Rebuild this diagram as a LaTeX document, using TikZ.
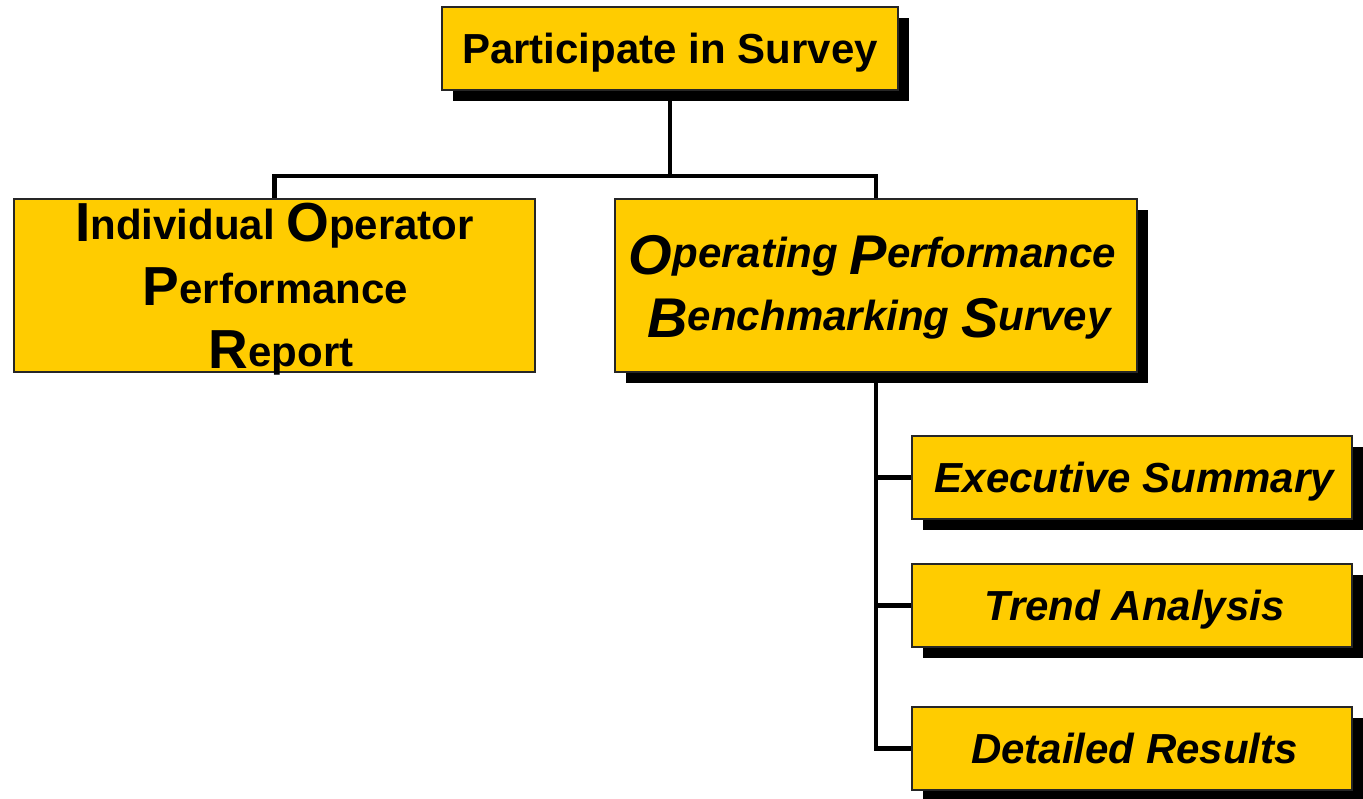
\documentclass[tikz,border=0pt]{standalone}
\usepackage{fontspec}
\setmainfont{Liberation Sans}
\usetikzlibrary{shadows,backgrounds}
\definecolor{boxyellow}{HTML}{FFCC00}
\definecolor{edgegray}{HTML}{262626}
% enlarged, slightly lowered initial letters
\newcommand\iopcap[1]{\raisebox{-1.7pt}{\fontsize{55}{60}\selectfont\bfseries #1}}
\newcommand\opbcap[1]{\raisebox{-7pt}{\fontsize{56}{60}\selectfont\bfseries\itshape #1}}
\begin{document}
\begin{tikzpicture}[x=1pt,y=-1pt,
  box/.style={draw=edgegray, line width=1.6pt, fill=boxyellow, inner sep=0pt, outer sep=0pt},
  shadowed/.style={drop shadow={shadow xshift=11pt, shadow yshift=-11pt, fill=black, opacity=1}},
  onetext/.style={text height=30pt, text depth=0pt, font=\fontsize{42}{50}\selectfont\bfseries},
  linetext/.style={inner sep=0pt, anchor=base, font=\fontsize{42}{50}\selectfont\bfseries},
  wire/.style={line width=4.5pt, line join=miter, black}]
\useasboundingbox (0,0) rectangle (1363,799);

% boxes
\node[box, shadowed, onetext, minimum width=456pt, minimum height=83pt] (top) at (670,48.5) {Participate in Survey};
\node[box, minimum width=521pt, minimum height=173pt] (iopr) at (274.5,285.5) {};
\node[box, shadowed, minimum width=522pt, minimum height=173pt] (opbs) at (876,285.5) {};
\node[box, shadowed, onetext, font=\fontsize{42}{50}\selectfont\bfseries\itshape, minimum width=440pt, minimum height=83pt] (exec) at (1132,477.5) {\hspace*{5pt}Executive Summary};
\node[box, shadowed, onetext, font=\fontsize{42}{50}\selectfont\bfseries\itshape, minimum width=440pt, minimum height=83pt] (trend) at (1132,605.5) {\hspace*{5pt}Trend Analysis};
\node[box, shadowed, onetext, font=\fontsize{42}{50}\selectfont\bfseries\itshape, minimum width=440pt, minimum height=83pt] (detail) at (1132,748.5) {\hspace*{5pt}Detailed Results};

% box texts, one node per line
\node[linetext] (iopr1) at (274.5,240) {\iopcap{I}ndividual \iopcap{O}perator};
\node[linetext] (iopr2) at (275.5,303.5) {\iopcap{P}erformance};
\node[linetext] (iopr3) at (281,367) {\iopcap{R}eport};
\node[linetext, font=\fontsize{42}{50}\selectfont\bfseries\itshape] (opbs1) at (872.5,268) {\opbcap{O}perating \opbcap{P}erformance};
\node[linetext, font=\fontsize{42}{50}\selectfont\bfseries\itshape] (opbs2) at (879,331) {\opbcap{B}enchmarking \opbcap{S}urvey};

% connectors
\coordinate (bus) at (670,176);
\begin{scope}[on background layer]
  \draw[wire] (top.south) -- (bus);
  \draw[wire] (iopr.north) |- (bus) -| (opbs.north);
  \draw[wire] (opbs.south) |- (exec.west);
  \draw[wire] (opbs.south) |- (trend.west);
  \draw[wire] (opbs.south) |- (detail.west);
\end{scope}
\end{tikzpicture}
\end{document}
